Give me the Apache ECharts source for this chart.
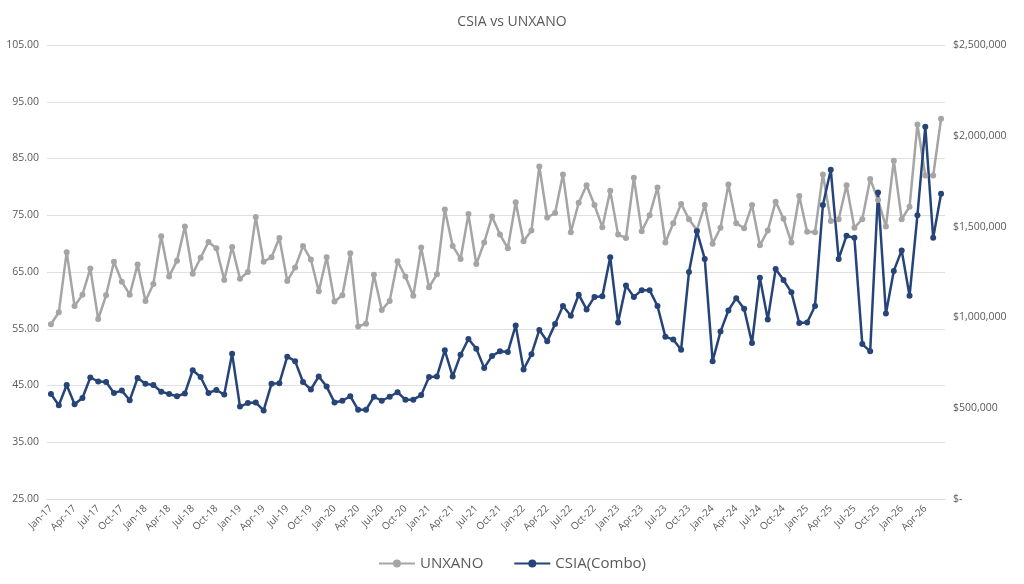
<!DOCTYPE html>
<html>
<head>
<meta charset="utf-8">
<script src="https://cdn.jsdelivr.net/npm/echarts@6/dist/echarts.min.js"></script>
<style>html,body{margin:0;padding:0;background:#fff}#chart{width:1024px;height:584px}</style>
</head>
<body>
<div id="chart"></div>
<script>
// month labels Jan-17 .. Jun-26
var monthNames = ['Jan','Feb','Mar','Apr','May','Jun','Jul','Aug','Sep','Oct','Nov','Dec'];
var categories = [];
for (var y = 17; y <= 26; y++) {
	for (var m = 0; m < 12; m++) {
		if (y === 26 && m > 5) break;
		categories.push(monthNames[m] + '-' + y);
	}
}
// UNXANO (left axis)
var unxano = [
	55.8,57.9,68.5,59.0,61.0,65.6,56.7,60.9,66.8,63.3,61.0,66.3,
	59.9,62.9,71.3,64.2,67.0,73.0,64.7,67.5,70.3,69.2,63.6,69.4,
	63.8,65.0,74.7,66.8,67.6,71.0,63.4,65.8,69.6,67.2,61.6,67.6,
	59.8,60.9,68.3,55.4,55.9,64.5,58.3,59.9,66.9,64.2,60.8,69.3,
	62.3,64.6,76.0,69.6,67.3,75.2,66.4,70.2,74.8,71.6,69.2,77.3,
	70.4,72.3,83.6,74.6,75.4,82.2,72.0,77.2,80.3,76.8,72.9,79.3,
	71.6,71.0,81.6,72.2,75.0,79.9,70.2,73.6,77.0,74.3,72.4,76.8,
	70.0,72.8,80.4,73.6,72.7,76.8,69.7,72.3,77.4,74.4,70.2,78.4,
	72.1,72.0,82.2,74.0,74.3,80.3,72.8,74.3,81.4,77.7,73.0,84.6,
	74.3,76.5,91.0,82.0,82.0,92.0
];
// CSIA(Combo) in dollars (right axis)
var csia = [
	578000,516000,628000,522000,556000,669000,647000,644000,584000,597000,544000,666000,
	634000,628000,591000,578000,566000,581000,709000,672000,584000,600000,575000,800000,
	509000,528000,531000,488000,634000,638000,784000,759000,644000,603000,675000,619000,
	531000,541000,566000,491000,491000,563000,541000,563000,588000,547000,547000,572000,
	672000,675000,819000,675000,794000,881000,828000,722000,788000,813000,809000,956000,
	713000,797000,931000,869000,963000,1063000,1009000,1125000,1044000,1113000,1116000,1331000,
	972000,1175000,1113000,1150000,1150000,1063000,894000,878000,822000,1250000,1475000,1322000,
	759000,922000,1038000,1106000,1047000,859000,1219000,988000,1266000,1206000,1138000,969000,
	972000,1063000,1619000,1813000,1322000,1450000,1438000,853000,813000,1688000,1022000,1256000,
	1369000,1119000,1563000,2050000,1438000,1681000
];

var chart = echarts.init(document.getElementById('chart'));
chart.setOption({
	animation: false,
	title: {
		text: 'CSIA vs UNXANO', left: 'center', top: 10,
		textStyle: { color: '#595959', fontSize: 14, fontWeight: 'normal', fontFamily: 'Open Sans' }
	},
	legend: {
		bottom: 8, itemGap: 30, itemWidth: 36, itemHeight: 10,
		textStyle: { color: '#595959', fontSize: 15, fontFamily: 'Open Sans' },
		data: ['UNXANO', 'CSIA(Combo)']
	},
	grid: { left: 47, right: 79, top: 45, bottom: 85 },
	xAxis: {
		type: 'category', data: categories,
		axisLine: { lineStyle: { color: '#d9d9d9' } },
		axisTick: { show: false },
		axisLabel: { interval: 2, rotate: 45, color: '#595959', fontSize: 10, fontFamily: 'Open Sans' }
	},
	yAxis: [{
		type: 'value', min: 25, max: 105, interval: 10,
		axisLabel: { color: '#595959', fontSize: 10.5, fontFamily: 'Open Sans', formatter: function (v) { return v.toFixed(2); } },
		splitLine: { lineStyle: { color: '#e0e0e0' } }
	}, {
		type: 'value', min: 0, max: 2500000, interval: 500000,
		splitLine: { show: false },
		axisLabel: {
			color: '#595959', fontSize: 10.5, fontFamily: 'Open Sans',
			formatter: function (v) { return v === 0 ? '$-' : '$' + v.toLocaleString('en-US'); }
		}
	}],
	series: [{
		name: 'UNXANO', type: 'line', data: unxano, yAxisIndex: 0,
		symbol: 'circle', symbolSize: 6, showAllSymbol: true,
		lineStyle: { color: '#a5a5a5', width: 2.5 }, itemStyle: { color: '#a5a5a5' }
	}, {
		name: 'CSIA(Combo)', type: 'line', data: csia, yAxisIndex: 1,
		symbol: 'circle', symbolSize: 6, showAllSymbol: true,
		lineStyle: { color: '#264478', width: 2.5 }, itemStyle: { color: '#264478' }
	}]
});
</script>
</body>
</html>
